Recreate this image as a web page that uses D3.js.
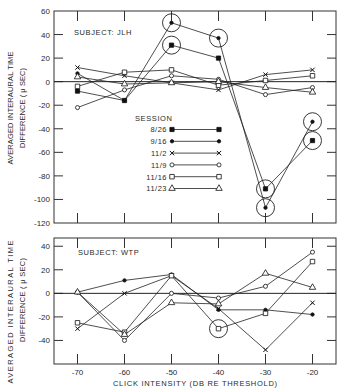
<!DOCTYPE html>
<html>
<head>
<meta charset="utf-8">
<script src="https://cdn.jsdelivr.net/npm/d3@7"></script>
<style>
  body { margin: 0; background: #fff; }
  svg text { font-family: "Liberation Sans", Arial, sans-serif; fill: #2a2a2a; }
</style>
</head>
<body>
<div id="chart"></div>
<script>
// click intensity levels (dB re threshold)
const intensities = [-70, -60, -50, -40, -30, -20];
const sessions = ['8/26', '9/16', '11/2', '11/9', '11/16', '11/23'];
const symbols = ['squareFilled', 'dot', 'cross', 'circleOpen', 'squareOpen', 'triangle'];

// subject JLH, one array per session
const jlh826 = [-8, -16, 31, 20, -91, -50];
const jlh916 = [7, -16, 50, 37, -107, -34];
const jlh112 = [12, 5, -1, -7, 6, 10];
const jlh119 = [-22, -7, 5, 2, -11, -5];
const jlh1116 = [-4, 8, 10, -3, 1, 5];
const jlh1123 = [4, -2, -1, 0, -5, -9];
// circled points: [session index, intensity index]
const jlhCircled = [[1, 2], [0, 2], [1, 3], [0, 4], [1, 4], [1, 5], [0, 5]];

// subject WTP
const wtp916 = [1, 11, 16, -14, -14, -18];
const wtp112 = [-30, 0, 15, -13, -48, -8];
const wtp119 = [1, -40, 0, -4, 6, 35];
const wtp1116 = [-25, -33, 15, -30, -17, 27];
const wtp1123 = [1, -35, -8, -9, 17, 5];
const wtpCircled = [[4, 3]];

const topTicks = [60, 40, 20, 0, -20, -40, -60, -80, -100, -120];
const bottomTicks = [40, 20, 0, -20, -40];

const W = 342, H = 388;
const svg = d3.select('#chart').append('svg')
    .attr('width', W)
    .attr('height', H);

const x = d3.scaleLinear().domain([-75, -15]).range([54, 336]);

const symbolPath = {
    squareFilled: d3.symbol(d3.symbolSquare, 18)(),
    squareOpen: d3.symbol(d3.symbolSquare, 20)(),
    dot: d3.symbol(d3.symbolCircle, 9)(),
    circleOpen: d3.symbol(d3.symbolCircle, 13)(),
    cross: d3.symbol(d3.symbolTimes, 14)(),
    triangle: d3.symbol(d3.symbolTriangle, 18)(),
};

const drawMarker = (g, type, cx, cy) => {
    const filled = type === 'squareFilled' || type === 'dot';
    g.append('path')
        .attr('d', symbolPath[type])
        .attr('transform', `translate(${cx},${cy})`)
        .style('fill', filled ? '#111' : '#fff')
        .style('stroke', '#111')
        .style('stroke-width', type === 'cross' ? 1 : 0.8);
};

const drawPanel = (opts) => {
    const y = d3.scaleLinear().domain(opts.domain).range(opts.range);
    const g = svg.append('g');
    const [left, right] = x.range();
    const [bottom, top] = opts.range;

    // frame
    g.append('rect')
        .attr('x', left).attr('y', top)
        .attr('width', right - left).attr('height', bottom - top)
        .style('fill', 'none').style('stroke', '#333').style('stroke-width', 1);

    // inner ticks on all four sides
    opts.ticks.forEach((t) => {
        if (y(t) <= top + 1 || y(t) >= bottom - 1) return;
        g.append('line').attr('x1', left).attr('x2', left + 9).attr('y1', y(t)).attr('y2', y(t))
            .style('stroke', '#333');
        g.append('line').attr('x1', right - 9).attr('x2', right).attr('y1', y(t)).attr('y2', y(t))
            .style('stroke', '#333');
    });
    opts.ticks.forEach((t) => {
        g.append('text')
            .attr('x', 50).attr('y', y(t) + 3)
            .style('text-anchor', 'end')
            .style('font-size', '8px')
            .text(t);
    });
    intensities.forEach((v) => {
        g.append('line').attr('x1', x(v)).attr('x2', x(v)).attr('y1', top).attr('y2', top + 10)
            .style('stroke', '#333');
        g.append('line').attr('x1', x(v)).attr('x2', x(v)).attr('y1', bottom - 10).attr('y2', bottom)
            .style('stroke', '#333');
    });

    // zero line
    g.append('line').attr('x1', left).attr('x2', right).attr('y1', y(0)).attr('y2', y(0))
        .style('stroke', '#222').style('stroke-width', 1);

    // subject label
    g.append('text')
        .attr('x', opts.labelX).attr('y', opts.labelY)
        .style('font-size', '7.5px')
        .style('letter-spacing', '0.6px')
        .text(opts.subject);

    // y axis title (two rotated lines)
    g.append('text')
        .attr('transform', `translate(13,${opts.titleY}) rotate(-90)`)
        .style('text-anchor', 'middle')
        .style('font-size', '7.5px')
        .attr('textLength', opts.titleLen1)
        .attr('lengthAdjust', 'spacing')
        .text('AVERAGED INTERAURAL TIME');
    g.append('text')
        .attr('transform', `translate(25,${opts.titleY2}) rotate(-90)`)
        .style('text-anchor', 'middle')
        .style('font-size', '7.5px')
        .attr('textLength', opts.titleLen2)
        .attr('lengthAdjust', 'spacing')
        .text('DIFFERENCE ( \u03BC SEC)');

    const line = d3.line()
        .x((d, i) => x(intensities[i]))
        .y(d => y(d));

    opts.series.forEach((s) => {
        g.append('path')
            .datum(s.values)
            .attr('d', line)
            .style('fill', 'none')
            .style('stroke', '#222')
            .style('stroke-width', 0.8);
    });

    // circles around flagged points
    opts.circled.forEach(([si, xi]) => {
        const s = opts.series.find(d => d.index === si);
        g.append('circle')
            .attr('cx', x(intensities[xi])).attr('cy', y(s.values[xi]))
            .attr('r', 9)
            .style('fill', 'none').style('stroke', '#222').style('stroke-width', 0.9);
    });

    opts.series.forEach((s) => {
        s.values.forEach((v, i) => drawMarker(g, symbols[s.index], x(intensities[i]), y(v)));
    });

    return y;
};

drawPanel({
    domain: [-120, 60],
    range: [223, 11],
    ticks: topTicks,
    subject: 'SUBJECT: JLH',
    labelX: 74,
    labelY: 35,
    titleY: 108,
    titleY2: 108,
    titleLen1: 113,
    titleLen2: 80,
    series: [jlh826, jlh916, jlh112, jlh119, jlh1116, jlh1123].map((values, index) => ({ values, index })),
    circled: jlhCircled,
});

drawPanel({
    domain: [-60, 47],
    range: [364, 238],
    ticks: bottomTicks,
    subject: 'SUBJECT: WTP',
    labelX: 78,
    labelY: 255,
    titleY: 312,
    titleY2: 300,
    titleLen1: 143,
    titleLen2: 84,
    series: [wtp916, wtp112, wtp119, wtp1116, wtp1123].map((values, i) => ({ values, index: i + 1 })),
    circled: wtpCircled,
});

// legend
const legend = svg.append('g');
legend.append('text')
    .attr('x', 135).attr('y', 121)
    .style('font-size', '7.5px')
    .style('letter-spacing', '0.6px')
    .text('SESSION');
sessions.forEach((s, i) => {
    const ly = 129.5 + i * 11.8;
    legend.append('text')
        .attr('x', 167).attr('y', ly + 2.8)
        .style('text-anchor', 'end')
        .style('font-size', '7.5px')
        .style('letter-spacing', '0.5px')
        .text(s);
    legend.append('line')
        .attr('x1', 172).attr('x2', 219).attr('y1', ly).attr('y2', ly)
        .style('stroke', '#222').style('stroke-width', 0.8);
    drawMarker(legend, symbols[i], 172, ly);
    drawMarker(legend, symbols[i], 219, ly);
});

// x axis tick labels and title
intensities.forEach((v) => {
    svg.append('text')
        .attr('x', x(v)).attr('y', 375)
        .style('text-anchor', 'middle')
        .style('font-size', '8px')
        .text(v);
});
svg.append('text')
    .attr('x', 195).attr('y', 386)
    .style('text-anchor', 'middle')
    .style('font-size', '7.5px')
    .attr('textLength', 164)
    .attr('lengthAdjust', 'spacing')
    .text('CLICK INTENSITY (DB RE THRESHOLD)');
</script>
</body>
</html>
